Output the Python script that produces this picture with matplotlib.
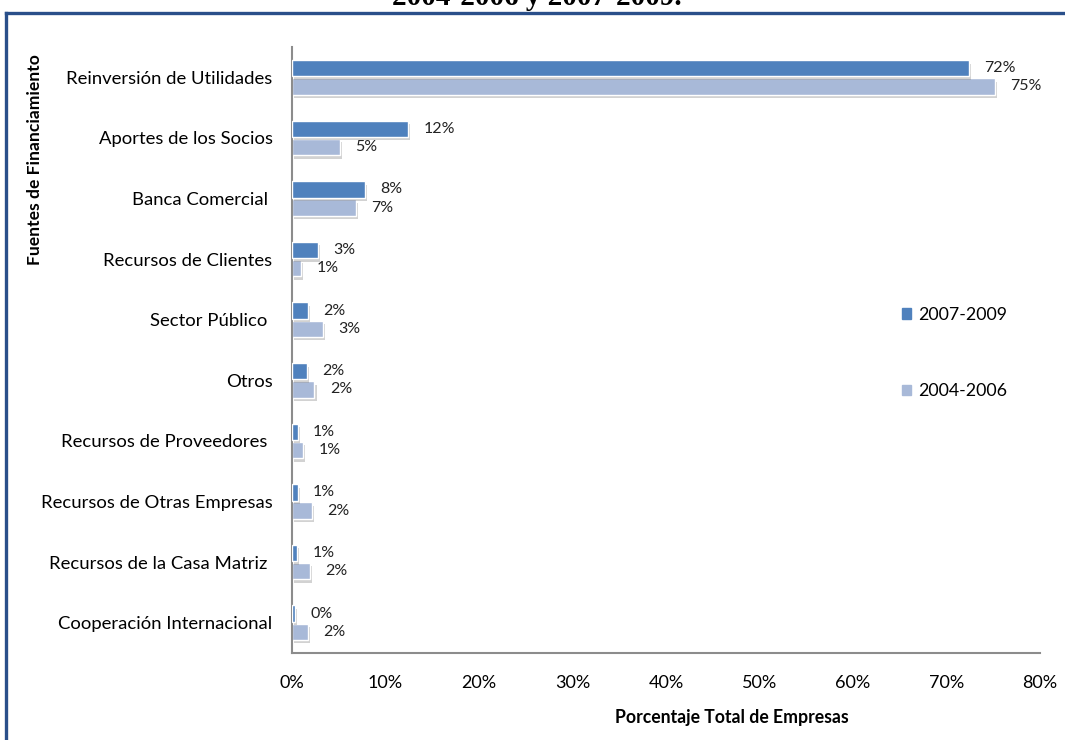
import matplotlib.pyplot as plt
import matplotlib.patheffects as pe
from matplotlib.lines import Line2D
from matplotlib.patches import Patch
import numpy as np

plt.rcParams["font.family"] = ["Lato", "DejaVu Sans"]

# Fuentes de financiamiento (porcentaje de empresas)
fuentes = [
    "Reinversión de Utilidades",
    "Aportes de los Socios",
    "Banca Comercial ",
    "Recursos de Clientes",
    "Sector Público ",
    "Otros",
    "Recursos de Proveedores ",
    "Recursos de Otras Empresas",
    "Recursos de la Casa Matriz ",
    "Cooperación Internacional",
]
p2007_2009 = [72.4, 12.4, 7.8, 2.8, 1.7, 1.6, 0.6, 0.6, 0.55, 0.3]
p2004_2006 = [75.2, 5.1, 6.8, 1.0, 3.3, 2.4, 1.2, 2.1, 1.9, 1.7]
xticks = [0, 10, 20, 30, 40, 50, 60, 70, 80]

c_nuevo = "#4f81bd"
c_viejo = "#a8b9d8"

W, H = 1065, 740
fig = plt.figure(figsize=(W / 100, H / 100), dpi=100)
ax = fig.add_axes([292 / W, 1 - 653 / H, (1040 - 292) / W, (653 - 47) / H])

y = np.arange(len(fuentes))
alto = 0.27
sombra = [pe.SimplePatchShadow(offset=(1.5, -2.5), shadow_rgbFace="#808080", alpha=0.35), pe.Normal()]

b1 = ax.barh(y - 0.15, p2007_2009, height=alto, color=c_nuevo, edgecolor="white", linewidth=1, zorder=3)
b2 = ax.barh(y + 0.15, p2004_2006, height=alto, color=c_viejo, edgecolor="white", linewidth=1, zorder=2)
for barras in (b1, b2):
    for b in barras:
        b.set_path_effects(sombra)

# etiquetas con el valor redondeado
for barras, vals in ((b1, p2007_2009), (b2, p2004_2006)):
    for b, v in zip(barras, vals):
        ax.annotate(f"{v:.0f}%", (v, b.get_y() + b.get_height() / 2),
                    xytext=(11, 0), textcoords="offset points",
                    va="center", ha="left", fontsize=11.5, color="#222222")

ax.set_xlim(0, 80)
ax.set_ylim(len(fuentes) - 0.5, -0.5)
ax.set_xticks(xticks)
ax.set_xticklabels([f"{t}%" for t in xticks], fontsize=13)
ax.set_yticks(y)
ax.set_yticklabels(fuentes, fontsize=13.3)
ax.tick_params(axis="both", length=0)
ax.tick_params(axis="y", pad=14)
ax.tick_params(axis="x", pad=16)
for s in ("top", "right"):
    ax.spines[s].set_visible(False)
for s in ("left", "bottom"):
    ax.spines[s].set_color("#8c8c8c")
    ax.spines[s].set_linewidth(1.5)

fig.text(732 / W, 1 - 717 / H, "Porcentaje Total de Empresas", ha="center", va="center",
         fontsize=12.7, fontweight="bold")
fig.text(35 / W, 1 - 160 / H, "Fuentes de Financiamiento", ha="center", va="center",
         rotation=90, fontsize=12.6, fontweight="bold")

handles = [Patch(color=c_nuevo), Patch(color=c_viejo)]
fig.legend(handles, ["2007-2009", "2004-2006"], loc="center left",
           bbox_to_anchor=(893 / W, 1 - 353 / H), frameon=False, fontsize=12.8,
           handlelength=0.5, handleheight=0.5, handletextpad=0.4,
           labelspacing=3.4, borderpad=0)

# titulo cortado y marco azul
fig.text(537 / W, 1 - 5 / H, "2004-2006 y 2007-2009.", ha="center", va="baseline",
         fontsize=21, fontweight="bold", family="Liberation Serif")
marco = "#2a4f8a"
fig.add_artist(Line2D([6 / W, 6 / W], [0, 1 - 13 / H], color=marco, lw=2.4))
fig.add_artist(Line2D([6 / W, 1], [1 - 13 / H, 1 - 13 / H], color=marco, lw=2.4))

fig.savefig("out.png", dpi=100)
